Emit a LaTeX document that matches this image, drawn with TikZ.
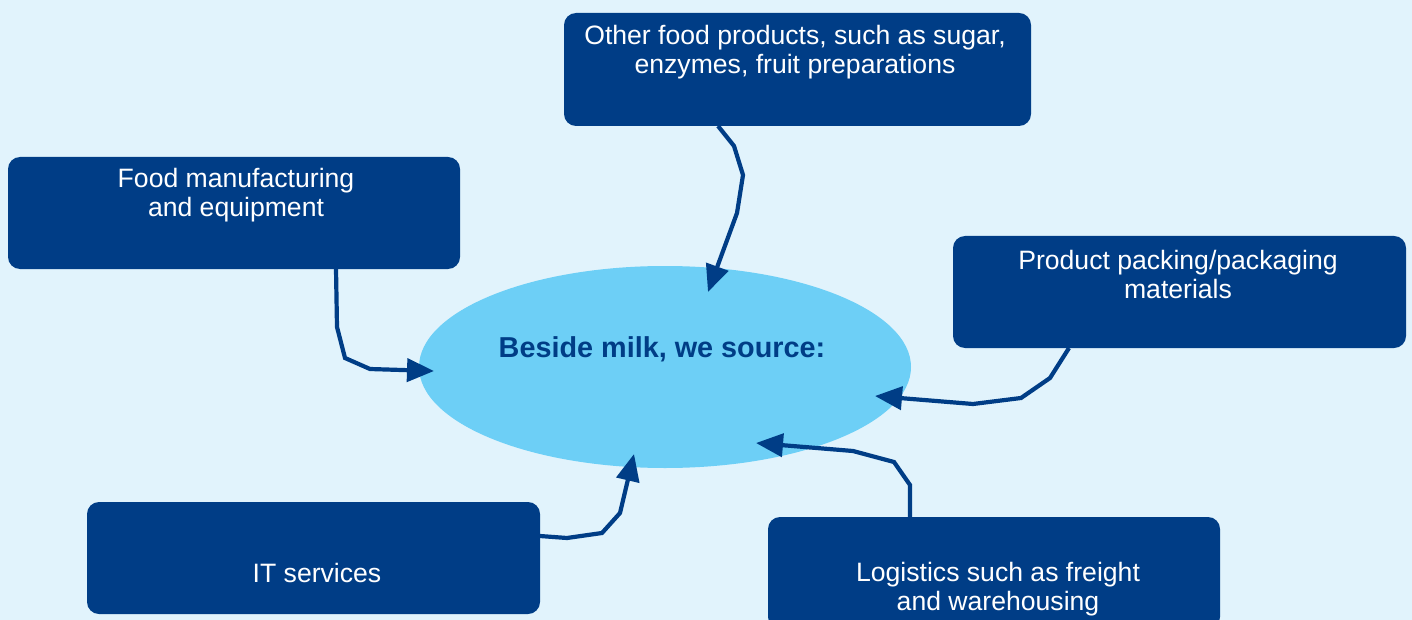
\documentclass[tikz,border=0pt]{standalone}
\usepackage{fontspec}
\setmainfont{Liberation Sans}
\usetikzlibrary{arrows.meta,shapes.geometric}
\definecolor{bgc}{RGB}{225,243,252}
\definecolor{boxc}{RGB}{0,61,134}
\definecolor{ellc}{RGB}{109,207,246}
\begin{document}
\begin{tikzpicture}[x=1pt,y=-1pt,
  box/.style={fill=boxc, rounded corners=12pt, inner sep=0pt, outer sep=0pt},
  lbl/.style={text=white, align=center, font=\fontsize{26.6}{29.5}\selectfont, inner sep=0pt},
  conn/.style={draw=boxc, line width=4.2pt, -{Triangle[length=27pt,width=23pt]}}]
\useasboundingbox (0,0) rectangle (1412,620);
\fill[bgc] (0,0) rectangle (1412,620);
\clip (0,0) rectangle (1412,620);
% ellipse
\node[ellipse, fill=ellc, minimum width=492pt, minimum height=202pt, inner sep=0pt] (el) at (665,367) {};
\node[text=boxc, font=\fontsize{28.8}{33}\selectfont\bfseries, inner sep=0pt] (eltext) at (662,349) {Beside milk, we source:};
% boxes
\path[box] (564,13) rectangle (1031,126) node[midway] (topbox) {};
\path[box] (8,157) rectangle (460,269) node[midway] (leftbox) {};
\path[box] (953,236) rectangle (1406,348) node[midway] (rightbox) {};
\path[box] (87,502) rectangle (540,614) node[midway] (itbox) {};
\path[box] (768,517) rectangle (1220,629) node[midway] (logbox) {};
% labels
\node[lbl] (toplbl) at (795,52) {Other food products, such as sugar,\\enzymes, fruit preparations};
\node[lbl] (leftlbl) at (236,195) {Food manufacturing\\and equipment};
\node[lbl] (rightlbl) at (1178,274.5) {Product packing/packaging\\materials};
\node[lbl] (itlbl) at (317,573) {IT services};
\node[lbl] (loglbl) at (998,589) {Logistics such as freight\\and warehousing};
% tips
\coordinate (t1) at (708,292);
\coordinate (t2) at (434,371);
\coordinate (t3) at (875,396);
\coordinate (t4) at (634,454);
\coordinate (t5) at (756,443);
% connectors
\draw[conn] (718,126) -- (734,146) -- (743,175) -- (737,213) -- (t1);
\draw[conn] (336,269) -- (337,327) -- (345,358) -- (370,369) -- (t2);
\draw[conn] (1069,348) -- (1050,378) -- (1021,398) -- (973,404) -- (t3);
\draw[conn] (540,536) -- (567,538) -- (602,533) -- (620,513) -- (t4);
\draw[conn] (910,517) -- (910,485) -- (894,462) -- (853,451) -- (t5);
\end{tikzpicture}
\end{document}
